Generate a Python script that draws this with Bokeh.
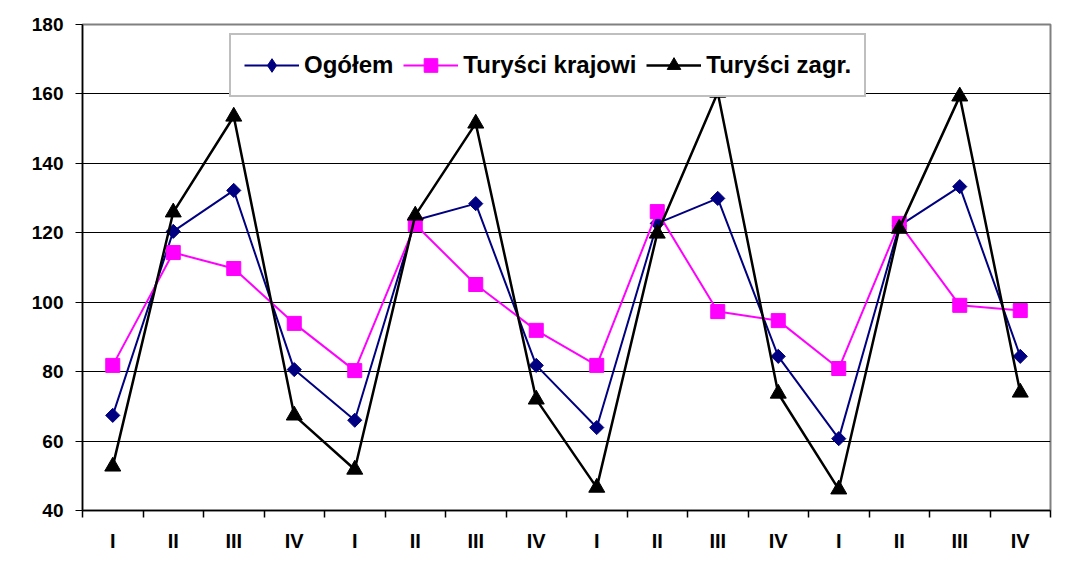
import math
from bokeh.plotting import figure
from bokeh.models import FixedTicker, Legend, LegendItem
from bokeh.embed import file_html
from bokeh.resources import INLINE

quarters = ["I", "II", "III", "IV"] * 4
positions = list(range(1, 17))
ogolem = [67.4, 120.4, 132.2, 80.6, 66.0, 123.6, 128.4, 81.8, 63.9, 122.7, 129.9, 84.4, 60.7, 122.0, 133.3, 84.4]
krajowi = [81.8, 114.3, 109.7, 93.9, 80.3, 122.4, 105.1, 91.9, 81.8, 126.1, 97.3, 94.7, 80.9, 122.7, 99.1, 97.6]
zagr = [52.7, 125.9, 153.5, 67.4, 51.8, 125.0, 151.5, 72.0, 46.6, 119.8, 160.4, 73.7, 46.1, 121.2, 159.3, 74.0]
y_ticks = [40, 60, 80, 100, 120, 140, 160, 180]

FONT = "Liberation Sans"

p = figure(width=1074, height=573, output_backend="svg", toolbar_location=None,
           x_range=(0.5, 16.5), y_range=(40, 180),
           min_border_left=82, min_border_top=24, min_border_right=24, min_border_bottom=63)
p.background_fill_color = "white"
p.border_fill_color = "white"
p.outline_line_color = "#808080"
p.outline_line_width = 2

p.xgrid.visible = False
p.ygrid.grid_line_color = "black"
p.ygrid.grid_line_width = 1
p.ygrid.ticker = FixedTicker(ticks=y_ticks)

p.yaxis.ticker = FixedTicker(ticks=y_ticks, minor_ticks=[])
p.yaxis.axis_line_color = "black"
p.yaxis.axis_line_width = 1.5
p.yaxis.major_tick_out = 7
p.yaxis.major_tick_in = 0
p.yaxis.major_label_standoff = 12
p.yaxis.major_label_text_font = FONT
p.yaxis.major_label_text_font_style = "bold"
p.yaxis.major_label_text_font_size = "19px"
p.yaxis.major_label_text_color = "black"

p.xaxis.ticker = FixedTicker(ticks=positions, minor_ticks=[i + 0.5 for i in range(0, 17)])
p.xaxis.major_label_overrides = {i: q for i, q in zip(positions, quarters)}
p.xaxis.axis_line_color = "black"
p.xaxis.axis_line_width = 1.5
p.xaxis.major_tick_out = 0
p.xaxis.major_tick_in = 0
p.xaxis.minor_tick_out = 7
p.xaxis.minor_tick_in = 0
p.xaxis.minor_tick_line_color = "black"
p.xaxis.minor_tick_line_width = 1.5
p.xaxis.major_label_standoff = 12
p.xaxis.major_label_text_font = FONT
p.xaxis.major_label_text_font_style = "bold"
p.xaxis.major_label_text_font_size = "20px"
p.xaxis.major_label_text_color = "black"

l1 = p.line(positions, ogolem, line_color="#000080", line_width=2)
s1 = p.scatter(positions, ogolem, marker="square", angle=math.pi / 4, size=10,
               fill_color="#000080", line_color="#000080")
# diamond used only for the legend swatch (hidden in the plot area)
s1_leg = p.scatter(positions, ogolem, marker="diamond", size=17,
                   fill_color="#000080", line_color="#000080", visible=False)
l2 = p.line(positions, krajowi, line_color="#FF00FF", line_width=2)
s2 = p.scatter(positions, krajowi, marker="square", size=14, fill_color="#FF00FF", line_color="#FF00FF")
l3 = p.line(positions, zagr, line_color="black", line_width=2.5)
s3 = p.scatter(positions, zagr, marker="triangle", size=16, fill_color="black", line_color="black")

legend = Legend(items=[
    LegendItem(label="Ogółem", renderers=[l1, s1_leg]),
    LegendItem(label="Turyści krajowi", renderers=[l2, s2]),
    LegendItem(label="Turyści zagr.", renderers=[l3, s3]),
], orientation="horizontal", location=(147, 413))
legend.label_text_font = FONT
legend.label_text_font_style = "bold"
legend.label_text_font_size = "24px"
legend.label_text_color = "black"
legend.glyph_width = 55
legend.glyph_height = 34
legend.label_standoff = 5
legend.spacing = 10
legend.padding = 13
legend.margin = 0
legend.inactive_fill_alpha = 0.0
legend.border_line_color = "#808080"
legend.border_line_width = 2
legend.background_fill_color = "white"
legend.background_fill_alpha = 1.0
p.add_layout(legend)

open("out.html", "w").write(file_html(p, INLINE))
